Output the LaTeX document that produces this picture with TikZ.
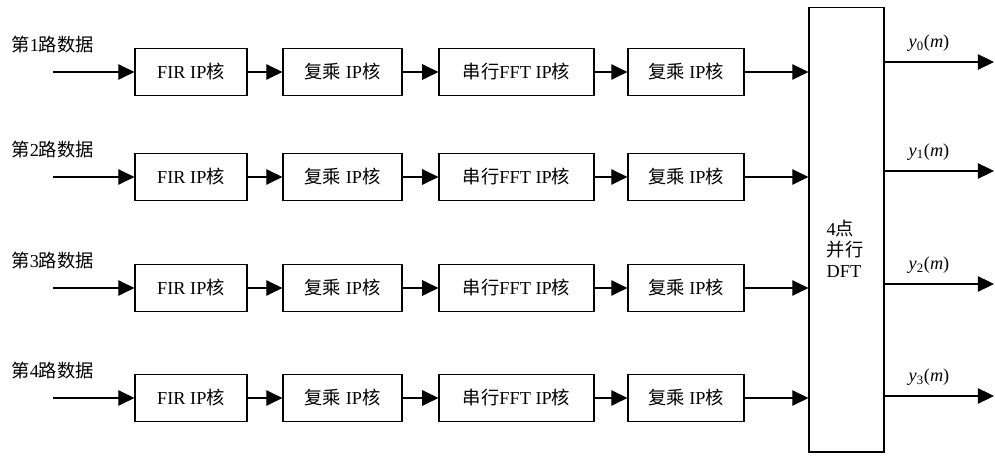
\documentclass[tikz,border=0pt]{standalone}
\usepackage{fontspec}
\setmainfont{Liberation Serif}
\newfontfamily\cjk{Noto Sans CJK SC}
\usetikzlibrary{arrows.meta, positioning, calc}

\begin{document}
\begin{tikzpicture}[x=0.025cm, y=-0.025cm, line width=0.8pt,
    font=\fontsize{13}{15}\selectfont,
    blk/.style={draw, minimum height=1.175cm, inner sep=0pt},
    flow/.style={-{Triangle[length=11.5pt, width=11pt]}}]
  \useasboundingbox (0,0) rectangle (995,457);

  % 4-point parallel DFT
  \node[draw, minimum width=1.875cm, minimum height=11.1cm, inner sep=0pt] (dft) at (846.5,230) {};
  \node[align=left, inner sep=0pt] (dftlbl) at (845,249) {4{\cjk 点}\\{\cjk 并行}\\DFT};

  % Four branches
  \foreach \i/\k/\yin/\yout in {1/0/72/62, 2/1/177/171, 3/2/288/284, 4/3/398/396} {
    \node[anchor=west, inner sep=0pt] (lbl\i) at (11,\yin-27) {{\cjk 第}\i{\cjk 路数据}};
    \coordinate (in\i) at (53,\yin);
    \node[blk, minimum width=2.8cm] (fir\i) at (191,\yin) {FIR IP{\cjk 核}};
    \node[blk, minimum width=2.975cm] (cma\i) at (342.5,\yin) {{\cjk 复乘} IP{\cjk 核}};
    \node[blk, minimum width=3.875cm] (fft\i) at (516.5,\yin) {{\cjk 串行}FFT IP{\cjk 核}};
    \node[blk, minimum width=2.9cm] (cmb\i) at (686,\yin) {{\cjk 复乘} IP{\cjk 核}};
    \draw[flow] (in\i) -- (fir\i);
    \draw[flow] (fir\i) -- (cma\i);
    \draw[flow] (cma\i) -- (fft\i);
    \draw[flow] (fft\i) -- (cmb\i);
    \draw[flow] (cmb\i) -- (cmb\i.east -| dft.west);
    % Output
    \coordinate (out\i) at (994,\yout);
    \draw[flow] (dft.east |- out\i) -- (out\i);
    \node (ylbl\i) at (929,\yout-19) {\textit{y}\textsubscript{\k}(\textit{m})};
  }
\end{tikzpicture}
\end{document}
